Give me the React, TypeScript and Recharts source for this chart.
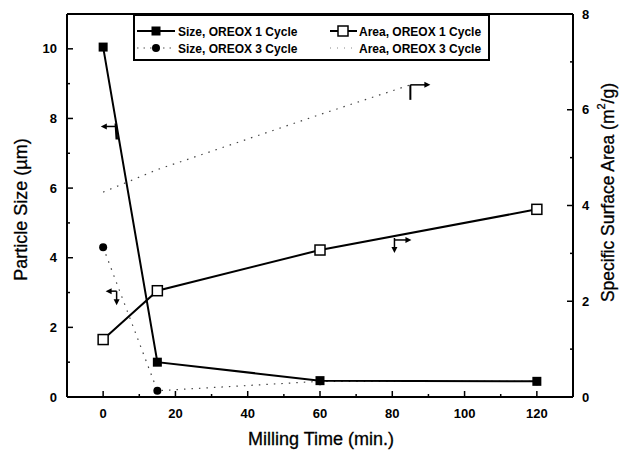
import React from 'react';
import { LineChart, Line, XAxis, YAxis, ReferenceLine, ReferenceDot, Legend } from 'recharts';

const sizeTimes = [0, 15, 60, 120];
const sizeOreox1 = [10.05, 1.0, 0.47, 0.45];
const sizeOreox3 = [4.3, 0.18, 0.45, 0.45];
const areaTimes1 = [0, 15, 60, 120];
const areaOreox1 = [1.2, 2.22, 3.07, 3.92];
const areaTimes3 = [0, 15, 60, 85];
const areaOreox3 = [4.28, 4.75, 5.9, 6.52];

const xTicks = [0, 10, 20, 30, 40, 50, 60, 70, 80, 90, 100, 110, 120];
const leftTicks = [0, 1, 2, 3, 4, 5, 6, 7, 8, 9, 10];
const rightTicks = [0, 1, 2, 3, 4, 5, 6, 7, 8];

const legendNames = [
  'Size, OREOX 1 Cycle',
  'Area, OREOX 1 Cycle',
  'Size, OREOX 3 Cycle',
  'Area, OREOX 3 Cycle',
];

const FONT = 'Arial, "Liberation Sans", Helvetica, sans-serif';

const toRows = (xs: number[], ys: number[]) => xs.map((x, i) => ({ t: x, v: ys[i] }));

const dSize1 = toRows(sizeTimes, sizeOreox1);
const dSize3 = toRows(sizeTimes, sizeOreox3);
const dArea1 = toRows(areaTimes1, areaOreox1);
const dArea3 = toRows(areaTimes3, areaOreox3);

const FilledSquare = (p: any) => {
  if (p.cx == null || p.cy == null) return <g key={`fs${p.index}`} />;
  return <rect key={`fs${p.index}`} x={p.cx - 4.5} y={p.cy - 4.5} width={9} height={9} fill="#000" />;
};
const OpenSquare = (p: any) => {
  if (p.cx == null || p.cy == null) return <g key={`os${p.index}`} />;
  return (
    <rect key={`os${p.index}`} x={p.cx - 5} y={p.cy - 5} width={10} height={10} fill="#fff" stroke="#000" strokeWidth={1.5} />
  );
};
const FilledCircle = (p: any) => {
  if (p.cx == null || p.cy == null) return <g key={`fc${p.index}`} />;
  return <circle key={`fc${p.index}`} cx={p.cx} cy={p.cy} r={4} fill="#000" />;
};

const XTick = (p: any) => {
  const { x, y, payload } = p;
  const v = payload.value;
  const major = v % 20 === 0;
  return (
    <g>
      <line x1={x} x2={x} y1={y} y2={y - (major ? 6 : 3)} stroke="#000" strokeWidth={1.5} />
      {major && (
        <text x={x} y={y + 21} textAnchor="middle" fontFamily={FONT} fontWeight="bold" fontSize={13} fill="#000">
          {v}
        </text>
      )}
    </g>
  );
};

const LeftTick = (p: any) => {
  const { x, y, payload } = p;
  const v = payload.value;
  const major = v % 2 === 0;
  return (
    <g>
      <line x1={x} x2={x + (major ? 6 : 3)} y1={y} y2={y} stroke="#000" strokeWidth={1.5} />
      {major && (
        <text x={x - 10} y={y + 4.5} textAnchor="end" fontFamily={FONT} fontWeight="bold" fontSize={13} fill="#000">
          {v}
        </text>
      )}
    </g>
  );
};

const RightTick = (p: any) => {
  const { x, y, payload } = p;
  const v = payload.value;
  const major = v % 2 === 0;
  return (
    <g>
      <line x1={x} x2={x - (major ? 6 : 3)} y1={y} y2={y} stroke="#000" strokeWidth={1.5} />
      {major && (
        <text x={x + 9} y={y + 4.5} textAnchor="start" fontFamily={FONT} fontWeight="bold" fontSize={13} fill="#000">
          {v}
        </text>
      )}
    </g>
  );
};

const LeftLabel = (p: any) => {
  const vb = p.viewBox || { x: 0, y: 14, width: 67, height: 383 };
  const cx = vb.x + 21;
  const cy = vb.y + vb.height / 2 + 4;
  return (
    <text x={cx} y={cy} transform={`rotate(-90 ${cx} ${cy})`} textAnchor="middle" dominantBaseline="central" fontFamily={FONT} fontSize={18} fill="#000" stroke="#000" strokeWidth={0.3}>
      Particle Size (µm)
    </text>
  );
};

const RightLabel = (p: any) => {
  const vb = p.viewBox || { x: 573, y: 14, width: 46, height: 383 };
  const cx = vb.x + 35;
  const cy = vb.y + vb.height / 2 - 13;
  return (
    <text x={cx} y={cy} transform={`rotate(-90 ${cx} ${cy})`} textAnchor="middle" dominantBaseline="central" fontFamily={FONT} fontSize={17.5} fill="#000" stroke="#000" strokeWidth={0.3}>
      Specific Surface Area (m
      <tspan fontSize={11} dy={-7}>2</tspan>
      <tspan dy={7}>/g)</tspan>
    </text>
  );
};

const XLabel = (p: any) => {
  const vb = p.viewBox || { x: 67, y: 397, width: 506, height: 55 };
  return (
    <text x={vb.x + vb.width / 2 + 1} y={vb.y + 48} textAnchor="middle" fontFamily={FONT} fontSize={18} fill="#000" stroke="#000" strokeWidth={0.3}>
      Milling Time (min.)
    </text>
  );
};

const head = (x: number, y: number, dir: 'l' | 'r' | 'd') => {
  if (dir === 'l') return `M${x},${y} L${x + 6},${y - 3} L${x + 6},${y + 3} Z`;
  if (dir === 'r') return `M${x},${y} L${x - 6},${y - 3} L${x - 6},${y + 3} Z`;
  return `M${x},${y} L${x - 3},${y - 6} L${x + 3},${y - 6} Z`;
};

const Arrow1 = (p: any) => {
  const { cx, cy } = p;
  return (
    <g>
      <line x1={cx} y1={cy} x2={cx - 12} y2={cy} stroke="#000" strokeWidth={1.5} />
      <path d={head(cx - 15, cy, 'l')} fill="#000" />
      <line x1={cx} y1={cy - 3} x2={cx + 1} y2={cy + 13} stroke="#000" strokeWidth={2.5} />
    </g>
  );
};
const Arrow2 = (p: any) => {
  const { cx, cy } = p;
  return (
    <g>
      <line x1={cx} y1={cy} x2={cx - 8} y2={cy} stroke="#000" strokeWidth={1.5} />
      <path d={head(cx - 11, cy, 'l')} fill="#000" />
      <line x1={cx} y1={cy} x2={cx} y2={cy + 10} stroke="#000" strokeWidth={1.5} />
      <path d={head(cx, cy + 14, 'd')} fill="#000" />
    </g>
  );
};
const Arrow3 = (p: any) => {
  const { cx, cy } = p;
  return (
    <g>
      <line x1={cx} y1={cy} x2={cx} y2={cy + 15} stroke="#000" strokeWidth={2} />
      <line x1={cx} y1={cy} x2={cx + 15} y2={cy} stroke="#000" strokeWidth={1.5} />
      <path d={head(cx + 20, cy, 'r')} fill="#000" />
    </g>
  );
};
const Arrow4 = (p: any) => {
  const { cx, cy } = p;
  return (
    <g>
      <line x1={cx} y1={cy} x2={cx + 12} y2={cy} stroke="#000" strokeWidth={1.5} />
      <path d={head(cx + 17, cy, 'r')} fill="#000" />
      <line x1={cx} y1={cy - 2} x2={cx} y2={cy + 9} stroke="#000" strokeWidth={1.5} />
      <path d={head(cx, cy + 13, 'd')} fill="#000" />
    </g>
  );
};

const LegendBox = () => {
  const W = 357;
  const H = 47;
  const r1 = 17;
  const r2 = 34;
  return (
    <svg width={W} height={H} style={{ display: 'block' }}>
      <rect x={1} y={1} width={W - 2} height={H - 2} fill="#fff" stroke="#000" strokeWidth={2} />
      <line x1={4} x2={42} y1={r1} y2={r1} stroke="#000" strokeWidth={2} />
      <rect x={18.5} y={r1 - 4.5} width={9} height={9} fill="#000" />
      <text x={45} y={r1 + 4.5} fontFamily={FONT} fontWeight="bold" fontSize={12} fill="#000">{legendNames[0]}</text>
      <line x1={197} x2={224} y1={r1} y2={r1} stroke="#000" strokeWidth={2} />
      <rect x={205} y={r1 - 5} width={10} height={10} fill="#fff" stroke="#000" strokeWidth={1.5} />
      <text x={226} y={r1 + 4.5} fontFamily={FONT} fontWeight="bold" fontSize={12} fill="#000">{legendNames[1]}</text>
      <line x1={4} x2={42} y1={r2} y2={r2} stroke="#555" strokeWidth={1.2} strokeDasharray="1.5 5" />
      <circle cx={23} cy={r2} r={4} fill="#000" />
      <text x={45} y={r2 + 4.5} fontFamily={FONT} fontWeight="bold" fontSize={12} fill="#000">{legendNames[2]}</text>
      <line x1={197} x2={224} y1={r2} y2={r2} stroke="#888" strokeWidth={1} strokeDasharray="1 6" />
      <text x={226} y={r2 + 4.5} fontFamily={FONT} fontWeight="bold" fontSize={12} fill="#000">{legendNames[3]}</text>
    </svg>
  );
};

export default function App() {
  return (
    <div style={{ position: 'absolute', left: 0, top: 0, width: 619, height: 452, background: '#fff' }}>
      <LineChart width={619} height={452} margin={{ top: 14, right: 0, left: 0, bottom: 0 }}>
        <XAxis
          dataKey="t"
          type="number"
          domain={[-10, 130]}
          ticks={xTicks}
          interval={0}
          height={55}
          tickSize={0}
          tickMargin={0}
          tickLine={false}
          tick={XTick}
          axisLine={{ stroke: '#000', strokeWidth: 2 }}
          allowDataOverflow
          label={{ content: XLabel }}
        />
        <YAxis
          yAxisId="left"
          type="number"
          domain={[0, 11]}
          ticks={leftTicks}
          interval={0}
          width={67}
          tickSize={0}
          tickMargin={0}
          tickLine={false}
          tick={LeftTick}
          axisLine={{ stroke: '#000', strokeWidth: 2 }}
          allowDataOverflow
          label={{ content: LeftLabel }}
        />
        <YAxis
          yAxisId="right"
          orientation="right"
          type="number"
          domain={[0, 8]}
          ticks={rightTicks}
          interval={0}
          width={46}
          tickSize={0}
          tickMargin={0}
          tickLine={false}
          tick={RightTick}
          axisLine={{ stroke: '#000', strokeWidth: 2 }}
          allowDataOverflow
          label={{ content: RightLabel }}
        />
        <ReferenceLine yAxisId="left" y={11} stroke="#000" strokeWidth={2} ifOverflow="extendDomain" />
        <Line
          yAxisId="right"
          data={dArea3}
          dataKey="v"
          stroke="#444"
          strokeWidth={1.2}
          strokeDasharray="1.5 6"
          dot={false}
          activeDot={false}
          isAnimationActive={false}
        />
        <Line
          yAxisId="left"
          data={dSize3}
          dataKey="v"
          stroke="#444"
          strokeWidth={1.2}
          strokeDasharray="1.5 6"
          dot={FilledCircle}
          activeDot={false}
          isAnimationActive={false}
        />
        <Line
          yAxisId="right"
          data={dArea1}
          dataKey="v"
          stroke="#000"
          strokeWidth={2}
          dot={OpenSquare}
          activeDot={false}
          isAnimationActive={false}
        />
        <Line
          yAxisId="left"
          data={dSize1}
          dataKey="v"
          stroke="#000"
          strokeWidth={2}
          dot={FilledSquare}
          activeDot={false}
          isAnimationActive={false}
        />
        <ReferenceDot yAxisId="left" x={3.5} y={7.77} r={0} shape={Arrow1} />
        <ReferenceDot yAxisId="left" x={3.73} y={3.04} r={0} shape={Arrow2} />
        <ReferenceDot yAxisId="right" x={85} y={6.52} r={0} shape={Arrow3} />
        <ReferenceDot yAxisId="right" x={80.6} y={3.28} r={0} shape={Arrow4} />
        <Legend
          layout="vertical"
          align="center"
          verticalAlign="middle"
          content={LegendBox}
          wrapperStyle={{ left: 133, top: 14, width: 357, height: 47 }}
        />
      </LineChart>
    </div>
  );
}
